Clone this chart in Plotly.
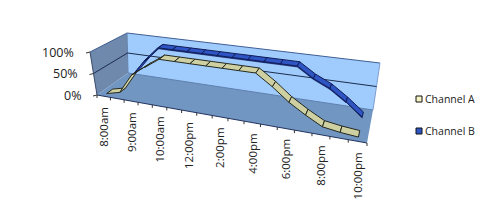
import plotly.graph_objects as go

categories = ["8:00am","8:30am","9:00am","9:30am","10:00am","11:00am","12:00pm","1:00pm","2:00pm","3:00pm",
              "4:00pm","5:00pm","6:00pm","7:00pm","8:00pm","9:00pm","10:00pm"]
tick_labels = ["8:00am","9:00am","10:00am","12:00pm","2:00pm","4:00pm","6:00pm","8:00pm","10:00pm"]
series_a = [1, 9, 54, 77, 100, 100, 100, 100, 100, 100, 100, 76, 49, 28, 10, 5, 2]
series_b = [None, 26, 66, 100, 100, 100, 100, 100, 100, 100, 100, 100, 100, 78, 62, 39, 13]
value_ticks = [0, 50, 100]
value_labels = ["0%", "50%", "100%"]

# projection of the 3D box
C = {(0,0,0):(97,95),(1,0,0):(367,143),(0,1,0):(128,73),(1,1,0):(373,110),
     (0,0,1):(90,52),(1,0,1):(375,93),(0,1,1):(127,33),(1,1,1):(380,63)}
K = 1.195
def proj(u, d, v):
    t = u/(u+K*(1-u))
    x = y = 0
    for a in (0,1):
        for b in (0,1):
            for c in (0,1):
                w = (t if a else 1-t)*(d if b else 1-d)*(v if c else 1-v)
                x += w*C[(a,b,c)][0]; y += w*C[(a,b,c)][1]
    return x, y

n = len(categories)
fig = go.Figure()

def poly(pts, fill, line=None, lw=0):
    xs = [p[0] for p in pts]+[pts[0][0]]
    ys = [p[1] for p in pts]+[pts[0][1]]
    fig.add_trace(go.Scatter(x=xs, y=ys, mode="lines", fill="toself", fillcolor=fill,
                             line=dict(color=line or fill, width=lw), hoverinfo="skip", showlegend=False))
def seg(p, q, color, w=1):
    fig.add_trace(go.Scatter(x=[p[0],q[0]], y=[p[1],q[1]], mode="lines",
                             line=dict(color=color, width=w), hoverinfo="skip", showlegend=False))

# walls and floor
poly([proj(0,0,0),proj(0,1,0),proj(0,1,1),proj(0,0,1)], "#6f89ad")
poly([proj(0,1,0),proj(1,1,0),proj(1,1,1),proj(0,1,1)], "#9fcbfd")
poly([proj(0,0,0),proj(1,0,0),proj(1,1,0),proj(0,1,0)], "#7196c2")
# outlines
edge = "#3f5f95"
seg(proj(0,1,1),proj(1,1,1),edge,1)
seg(proj(0,0,1),proj(0,1,1),edge,1)
seg(proj(1,1,1),proj(1,1,0),"#7f9fd0",1)
seg(proj(0,1,0),proj(0,1,1),"#5f7fa8",1)
seg(proj(0,1,0),proj(1,1,0),"#5d7fae",1)
# 50% gridline
seg(proj(0,0,.5),proj(0,1,.5),"#1c2c4c",1)
seg(proj(0,1,.5),proj(1,1,.5),"#1c2c4c",1)
# axes
seg(proj(0,0,0),proj(0,0,1),"#3a4a6a",1)
seg(proj(0,0,0),proj(1,0,0),"#22335f",1)
for k in range(n+1):
    p = proj(k/n,0,0)
    seg(p,(p[0],p[1]+3),"#333333",1)
for v in value_ticks:
    p = proj(0,0,v/100)
    seg(p,(p[0]-4,p[1]+1),"#333333",1)
    fig.add_annotation(x=p[0]-14,y=p[1],text=value_labels[value_ticks.index(v)],showarrow=False,
                       xanchor="right",yanchor="middle",font=dict(family="Open Sans",size=12.5,color="#222"))

def ribbon(vals, d, hw, top, dark, side):
    for i in range(n-1):
        if vals[i] is None or vals[i+1] is None:
            continue
        u0,u1=(i+.5)/n,(i+1.5)/n
        v0,v1=vals[i]/100,vals[i+1]/100
        if side:
            a,b=proj(u0,d-hw,v0),proj(u1,d-hw,v1)
            poly([a,b,(b[0],b[1]+1),(a[0],a[1]+1)],side,dark,.6)
        poly([proj(u0,d-hw,v0),proj(u1,d-hw,v1),proj(u1,d+hw,v1),proj(u0,d+hw,v0)],top,dark,1)

ribbon(series_b,.63,.08,"#2f55c4","#101c58","#16308c")
ribbon(series_a,.2,.1,"#cfd0a2","#24281e",None)

for i,lab in enumerate(tick_labels):
    x,y = proj((2*i+.5)/n,0,0)
    fig.add_annotation(x=x,y=y+9,text=lab,textangle=-90,showarrow=False,xanchor="center",yanchor="top",
                       font=dict(family="Open Sans",size=11.5,color="#222"))

# legend
names=["Channel A","Channel B"]
fills=["#f4f4c4","#2f55c4"]
for yy,nm,fl in zip([99,131],names,fills):
    fig.add_trace(go.Scatter(x=[419],y=[yy],mode="markers",marker=dict(symbol="square",size=6,color=fl,line=dict(color="#111",width=1)),
                             hoverinfo="skip",showlegend=False))
    fig.add_annotation(x=423,y=yy,text=nm,showarrow=False,xanchor="left",yanchor="middle",
                       font=dict(family="Open Sans",size=10.5,color="#222"))

fig.update_layout(width=500,height=218,margin=dict(l=0,r=0,t=0,b=0),paper_bgcolor="white",plot_bgcolor="white",showlegend=False,
                  xaxis=dict(range=[0,500],visible=False,fixedrange=True),
                  yaxis=dict(range=[218,0],visible=False,fixedrange=True))
fig.write_html("out.html",config=dict(displayModeBar=False),post_script="document.body.style.margin='0';document.documentElement.style.overflow='hidden';")
